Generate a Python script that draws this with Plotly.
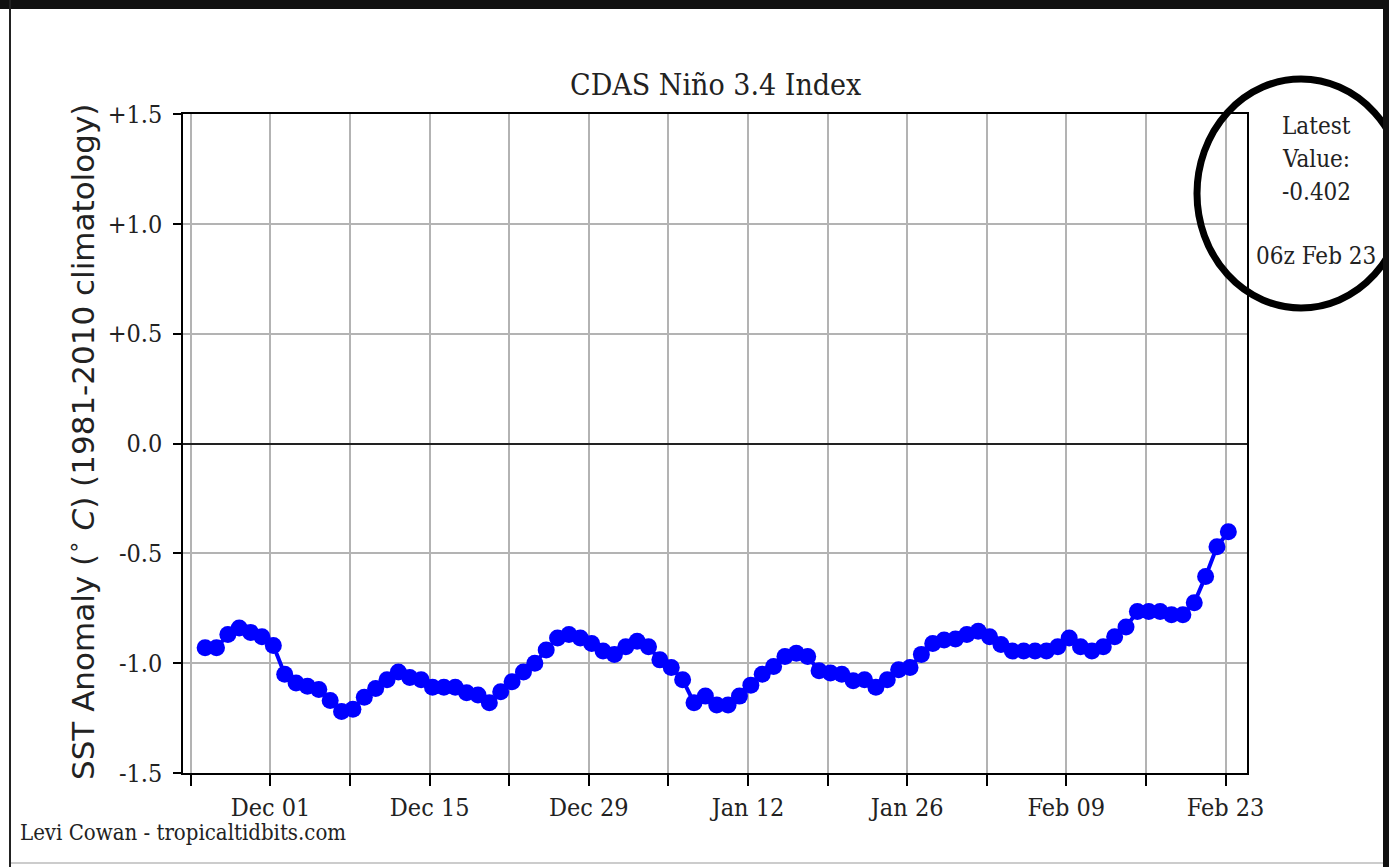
import pandas as pd
import plotly.graph_objects as go

# Daily CDAS Nino 3.4 SST anomaly (deg C), 06z analyses, 25 Nov 2017 - 23 Feb 2018
start_time = "2017-11-25 06:00"
anomaly = [
    -0.93, -0.93, -0.87, -0.84, -0.86, -0.88,                      # Nov 25-30
    -0.92, -1.05, -1.09, -1.105, -1.12, -1.17, -1.22, -1.21,        # Dec 1-8
    -1.155, -1.115, -1.075, -1.04, -1.065, -1.075, -1.11, -1.11,    # Dec 9-16
    -1.11, -1.135, -1.145, -1.18, -1.13, -1.085, -1.04, -1.0,       # Dec 17-24
    -0.94, -0.885, -0.87, -0.885, -0.91, -0.945, -0.96,             # Dec 25-31
    -0.925, -0.90, -0.925, -0.985, -1.02, -1.075, -1.18, -1.15,     # Jan 1-8
    -1.19, -1.19, -1.15, -1.10, -1.05, -1.015, -0.97, -0.955,       # Jan 9-16
    -0.97, -1.035, -1.045, -1.05, -1.08, -1.075, -1.11, -1.075,     # Jan 17-24
    -1.03, -1.02, -0.96, -0.91, -0.895, -0.89, -0.87,               # Jan 25-31
    -0.855, -0.88, -0.915, -0.945, -0.945, -0.945, -0.945, -0.925,  # Feb 1-8
    -0.885, -0.925, -0.945, -0.925, -0.88, -0.835, -0.765, -0.765,  # Feb 9-16
    -0.765, -0.78, -0.78, -0.725, -0.605, -0.47, -0.402,            # Feb 17-23
]
latest_value = anomaly[-1]
latest_label = "06z Feb 23"

# labelled ticks every two weeks, unlabelled ticks on the weeks between
major_ticks = ["2017-12-01", "2017-12-15", "2017-12-29", "2018-01-12",
               "2018-01-26", "2018-02-09", "2018-02-23"]
major_labels = ["Dec 01", "Dec 15", "Dec 29", "Jan 12", "Jan 26", "Feb 09", "Feb 23"]
minor_ticks = ["2017-11-24", "2017-12-08", "2017-12-22", "2018-01-05",
               "2018-01-19", "2018-02-02", "2018-02-16"]
y_ticks = [-1.5, -1.0, -0.5, 0.0, 0.5, 1.0, 1.5]
y_labels = ["-1.5", "-1.0", "-0.5", "0.0", "+0.5", "+1.0", "+1.5"]

times = pd.date_range(start_time, periods=len(anomaly), freq="D")

W, H = 1389, 867
L, R, T, B = 183, 1247, 114, 773   # plot-area edges in pixels
pw, ph = R - L, B - T


def px(x):
    return (x - L) / pw


def py(y):
    return (B - y) / ph


SERIF = "DejaVu Serif Condensed, DejaVu Serif, serif"
GRID = "#b3b3b3"

fig = go.Figure()
fig.add_trace(go.Scatter(
    x=times, y=anomaly, mode="lines+markers",
    line=dict(color="#0000ff", width=4),
    marker=dict(color="#0000ff", size=17, line=dict(width=0)),
    hoverinfo="skip", showlegend=False,
))

axis_common = dict(showline=True, linecolor="black", linewidth=1.5, mirror=True,
                   showgrid=True, gridcolor=GRID, gridwidth=1.5,
                   ticks="outside", tickcolor="black", tickwidth=1.5,
                   tickfont=dict(family=SERIF, size=25, color="#222"))

fig.update_xaxes(range=["2017-11-23 07:18", "2018-02-24 21:23"],
                 tickmode="array", tickvals=major_ticks, ticktext=major_labels,
                 ticklen=11, zeroline=False,
                 minor=dict(tickmode="array", tickvals=minor_ticks, ticks="outside",
                            ticklen=11, tickwidth=1.5, tickcolor="black",
                            showgrid=True, gridcolor=GRID, gridwidth=1.5),
                 **axis_common)
fig.update_yaxes(range=[-1.5, 1.5], tickmode="array", tickvals=y_ticks,
                 ticktext=y_labels, ticklen=8, ticklabelstandoff=6,
                 zeroline=True, zerolinecolor="#222", zerolinewidth=1.5,
                 **axis_common)

annotations = [
    dict(text="CDAS Niño 3.4 Index", x=0.5, y=py(84), xref="paper", yref="paper",
         xanchor="center", yanchor="middle", showarrow=False,
         font=dict(family=SERIF, size=30, color="#222")),
    dict(text="SST Anomaly (<sup>∘</sup> <i>C</i>) (1981-2010 climatology)",
         x=px(81), y=py(442), xref="paper", yref="paper", textangle=-90,
         xanchor="center", yanchor="middle", showarrow=False,
         font=dict(family="DejaVu Sans, sans-serif", size=31, color="#222")),
    dict(text="Levi Cowan - tropicaltidbits.com", x=px(18), y=py(833),
         xref="paper", yref="paper", xanchor="left", yanchor="middle",
         showarrow=False, font=dict(family=SERIF, size=22, color="#222")),
]

# side note with the latest value, one line at a time
note_lines = ["Latest", "Value:", f"{latest_value:.3f}", latest_label]
note_rows = [126, 159, 192, 256]
for line, row in zip(note_lines, note_rows):
    annotations.append(dict(text=line, x=px(1316), y=py(row), xref="paper", yref="paper",
                            xanchor="center", yanchor="middle", showarrow=False,
                            font=dict(family=SERIF, size=24, color="#222")))

shapes = [
    # hand-drawn style ring round the latest value
    dict(type="circle", xref="paper", yref="paper",
         x0=px(1197), x1=px(1405), y0=py(308), y1=py(79),
         line=dict(color="black", width=7), layer="above"),
    # page border
    dict(type="rect", xref="paper", yref="paper", x0=px(0), x1=px(W + 2),
         y0=py(9), y1=py(-2), fillcolor="#111", line=dict(width=0), layer="above"),
    dict(type="rect", xref="paper", yref="paper", x0=px(9), x1=px(11),
         y0=py(H + 2), y1=py(0), fillcolor="#222", line=dict(width=0), layer="above"),
    dict(type="rect", xref="paper", yref="paper", x0=px(1383), x1=px(W + 2),
         y0=py(H + 2), y1=py(0), fillcolor="#111", line=dict(width=0), layer="above"),
    dict(type="rect", xref="paper", yref="paper", x0=px(11), x1=px(1383),
         y0=py(864), y1=py(862), fillcolor="#cccccc", line=dict(width=0), layer="above"),
]

fig.update_layout(
    width=W, height=H,
    margin=dict(l=L, r=W - R, t=T, b=H - B, pad=0),
    paper_bgcolor="white", plot_bgcolor="white",
    annotations=annotations, shapes=shapes,
    font=dict(family=SERIF, color="#222"),
)

fig.write_html("out.html")
